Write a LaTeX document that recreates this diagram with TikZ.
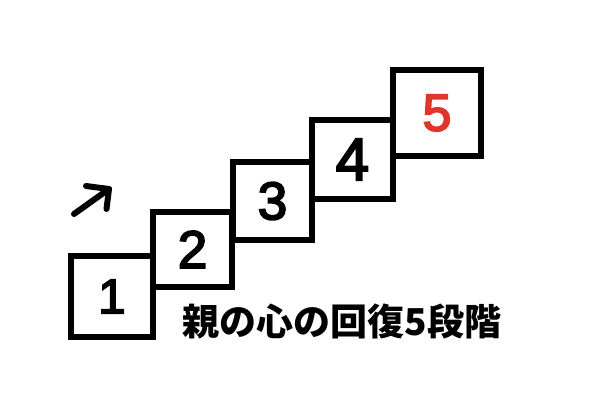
\documentclass[tikz,border=0pt]{standalone}
\usepackage{fontspec}
\setmainfont{Liberation Sans}
\newfontfamily\digitfont[FakeBold=3.5]{Liberation Sans}
\newfontfamily\cjk{Noto Sans CJK JP}
\definecolor{fivered}{HTML}{E0352B}
\begin{document}
\begin{tikzpicture}[x=1pt,y=-1pt,
  stepbox/.style={draw=black, line width=5.5pt, rectangle, inner sep=0pt},
  dsize/.style={font=\digitfont\fontsize{#1}{#1}\selectfont},
  arrowline/.style={draw=black, line width=6pt, line cap=round, line join=round}]
\useasboundingbox[fill=white] (0,0) rectangle (600,400);
\node[stepbox, dsize=49, minimum width=82pt, minimum height=81pt] (b1) at (112,296.5) {1};
\node[stepbox, dsize=53, minimum width=79pt, minimum height=75pt] (b2) at (192.5,249.5) {2};
\node[stepbox, dsize=53, minimum width=79pt, minimum height=78pt] (b3) at (272.5,201) {3};
\node[stepbox, dsize=60, minimum width=81pt, minimum height=79pt] (b4) at (352.5,159.5) {4};
\node[stepbox, dsize=52, minimum width=88pt, minimum height=86pt, text=fivered] (b5) at (437,113) {5};
\node[font=\cjk\bfseries\fontsize{37}{37}\selectfont, inner sep=0pt] (title) at (342,321) {親の心の回復5段階};
\coordinate (a0) at (74,214);
\coordinate (a1) at (109,189);
\coordinate (h1) at (86,186);
\coordinate (h2) at (106.5,209);
\draw[arrowline] (a0) -- (a1);
\draw[arrowline] (h1) -- (a1) -- (h2);
\end{tikzpicture}
\end{document}
